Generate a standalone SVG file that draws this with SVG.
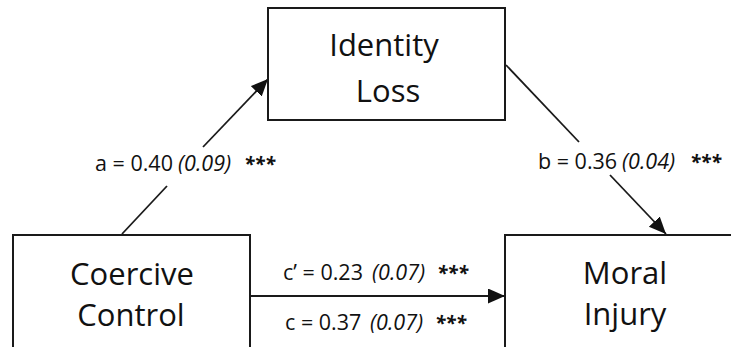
<svg xmlns="http://www.w3.org/2000/svg" width="731" height="347" viewBox="0 0 731 347">
  <style>
    .box { fill: #ffffff; stroke: #1a1a1a; stroke-width: 2; }
    .edge { fill: none; stroke: #1a1a1a; stroke-width: 1.8; }
    .big { font-family: "Open Sans", Lato, "Liberation Sans", sans-serif; font-size: 31px; fill: #111; text-anchor: middle; }
    .lbl { font-family: "Open Sans", Lato, "Liberation Sans", sans-serif; font-size: 21.5px; fill: #111; }
    .se { font-style: italic; }
    .sig { font-weight: bold; font-style: italic; font-size: 19px; }
  </style>
  <defs>
    <marker id="arrow" markerUnits="userSpaceOnUse" markerWidth="18" markerHeight="16" refX="17" refY="7.5" orient="auto">
      <path d="M0,0 L17,7.5 L0,15 Z" fill="#111"/>
    </marker>
  </defs>
  <rect width="731" height="347" fill="#ffffff"/>

  <!-- path a, path b, direct path c' / c -->
  <g id="connectors">
    <line class="edge" x1="122" y1="234" x2="167" y2="186"/>
    <line class="edge" x1="203" y1="147" x2="268" y2="79" marker-end="url(#arrow)"/>
    <line class="edge" x1="506" y1="65" x2="579" y2="142"/>
    <line class="edge" x1="610" y1="175" x2="666" y2="234" marker-end="url(#arrow)"/>
    <line class="edge" x1="250" y1="296" x2="505" y2="296" marker-end="url(#arrow)"/>
  </g>

  <g id="identity-loss">
    <rect class="box" x="268" y="8" width="237" height="112"/>
    <text class="big" x="384" y="56">Identity</text>
    <text class="big" x="388" y="102">Loss</text>
  </g>

  <g id="coercive-control">
    <rect class="box" x="13" y="235" width="237" height="130"/>
    <text class="big" x="132" y="285">Coercive</text>
    <text class="big" x="131" y="326">Control</text>
  </g>

  <g id="moral-injury">
    <rect class="box" x="505" y="235" width="240" height="130"/>
    <text class="big" x="625" y="284">Moral</text>
    <text class="big" x="625" y="325">Injury</text>
  </g>

  <g id="labels">
    <text class="lbl" y="171"><tspan x="95">a = 0.40</tspan><tspan class="se" x="178">(0.09)</tspan><tspan class="sig" x="244">***</tspan></text>
    <text class="lbl" y="169"><tspan x="538">b = 0.36</tspan><tspan class="se" x="622">(0.04)</tspan><tspan class="sig" x="690">***</tspan></text>
    <text class="lbl" y="280"><tspan x="283">c’ = 0.23</tspan><tspan class="se" x="372">(0.07)</tspan><tspan class="sig" x="437">***</tspan></text>
    <text class="lbl" y="330"><tspan x="285">c = 0.37</tspan><tspan class="se" x="370">(0.07)</tspan><tspan class="sig" x="435">***</tspan></text>
  </g>
</svg>
